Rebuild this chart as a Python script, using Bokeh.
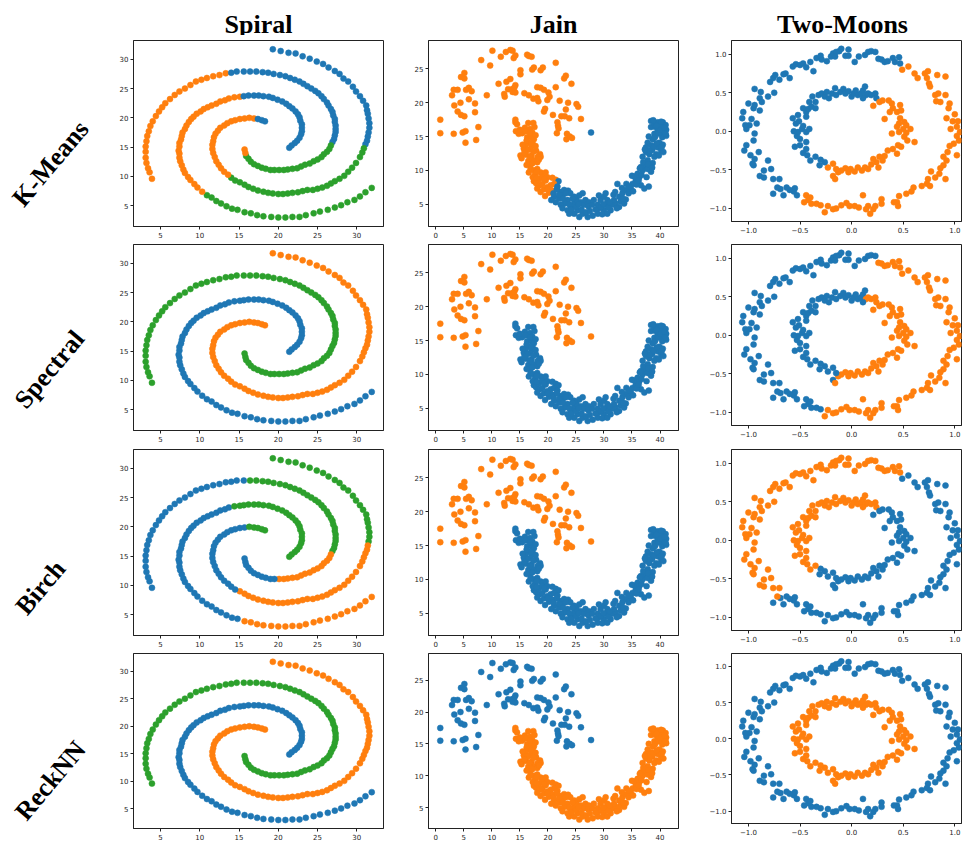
import math
from bokeh.plotting import figure
from bokeh.layouts import row, column
from bokeh.models import Range1d, FixedTicker
from bokeh.embed import file_html
from bokeh.resources import INLINE
from bokeh.core.properties import value

# ---------------- colours / names ----------------
PALETTE = ["#1f77b4", "#ff7f0e", "#2ca02c"]          # cluster 0, 1, 2
METHODS = ["K-Means", "Spectral", "Birch", "ReckNN"]
DATASETS = ["Spiral", "Jain", "Two-Moons"]

# ---------------- Spiral data (three arms, read along each arm) ----------------
SPIRAL_ARM_B = [(31.9,8.05),(31.1,7.3),(30.4,6.6),(29.7,6.0),(28.8,5.6),(28.0,5.1),(27.2,4.7),(26.3,4.3),
    (25.3,4.0),(24.5,3.7),(23.5,3.4),(22.7,3.1),(21.8,3.1),(20.9,3.0),(20.0,3.0),(19.1,3.1),(18.1,3.2),
    (17.3,3.4),(16.5,3.7),(15.7,3.9),(14.8,4.3),(14.1,4.5),(13.4,4.9),(12.7,5.4),(12.1,5.8),(11.5,6.4),
    (10.9,6.8),(10.3,7.4),(9.7,8.1),(9.3,8.7),(8.8,9.4),(8.5,9.9),(8.1,10.6),(7.9,11.2),(7.7,11.9),
    (7.5,12.6),(7.4,13.2),(7.4,13.9),(7.3,14.4),(7.4,15.1),(7.4,15.7),(7.6,16.3),(7.7,16.9),(7.8,17.5),
    (8.1,18.1),(8.3,18.7),(8.6,19.3),(8.9,19.8),(9.2,20.2),(9.6,20.7),(10.1,21.1),(10.5,21.5),(11.0,21.8),
    (11.5,22.1),(12.1,22.4),(12.6,22.8),(13.2,23.0),(13.7,23.3),(14.4,23.5),(15.1,23.6),(15.6,23.7),
    (16.2,23.8),(16.9,23.8),(17.5,23.8),(18.1,23.7),(18.8,23.6),(19.3,23.4),(19.9,23.1),(20.5,22.8),
    (21.0,22.4),(21.4,22.0),(21.8,21.6),(22.2,21.1),(22.5,20.6),(22.7,20.1),(22.8,19.5),(23.0,18.9),
    (23.0,18.3),(23.0,17.7),(22.9,17.2),(22.7,16.6),(22.4,16.1),(22.1,15.7),(21.7,15.3),(21.4,14.9)]
SPIRAL_ARM_O = [(19.3,31.7),(20.3,31.4),(21.3,31.1),(22.2,31.0),(23.1,30.5),(24.0,30.1),(24.9,29.6),
    (25.7,29.2),(26.4,28.6),(27.2,28.0),(27.8,27.5),(28.3,26.7),(28.9,26.2),(29.5,25.3),(29.9,24.5),
    (30.4,23.7),(30.8,22.9),(31.2,22.1),(31.3,21.3),(31.4,20.7),(31.5,19.9),(31.6,19.1),(31.6,18.3),
    (31.5,17.5),(31.4,16.8),(31.3,16.1),(31.1,15.5),(30.9,14.8),(30.7,14.1),(30.4,13.3),(29.9,12.3),
    (29.4,11.5),(28.9,10.8),(28.4,10.1),(27.8,9.6),(27.2,9.2),(26.7,8.8),(26.2,8.4),(25.6,8.1),(25.0,7.9),
    (24.4,7.7),(23.7,7.7),(23.1,7.5),(22.5,7.3),(21.8,7.2),(21.2,7.1),(20.6,7.0),(20.0,7.0),(19.3,7.1),
    (18.7,7.2),(18.1,7.4),(17.4,7.6),(16.8,7.9),(16.2,8.2),(15.7,8.6),(15.1,9.0),(14.5,9.3),(14.0,9.8),
    (13.6,10.3),(13.1,10.8),(12.7,11.4),(12.4,12.0),(12.1,12.6),(11.9,13.3),(11.7,14.0),(11.6,14.7),
    (11.6,15.4),(11.7,16.0),(11.8,16.7),(12.0,17.3),(12.3,17.8),(12.6,18.3),(13.1,18.7),(13.5,19.1),
    (14.0,19.4),(14.5,19.6),(15.1,19.8),(15.7,19.9),(16.3,20.0),(16.9,19.9),(17.4,19.8),(17.9,19.6),
    (18.3,19.4)]
SPIRAL_ARM_G = [(3.9,9.6),(3.6,10.7),(3.4,11.4),(3.2,12.3),(3.1,13.2),(3.1,14.2),(3.1,15.1),(3.2,16.0),
    (3.3,16.9),(3.5,17.7),(3.7,18.6),(4.0,19.4),(4.4,20.3),(4.8,21.1),(5.2,21.8),(5.6,22.5),(6.2,23.2),
    (6.8,23.9),(7.4,24.5),(8.1,25.0),(8.8,25.6),(9.5,26.2),(10.2,26.5),(10.9,26.8),(11.7,27.1),(12.5,27.3),
    (13.3,27.6),(14.0,27.7),(14.7,27.9),(15.6,27.9),(16.4,27.9),(17.2,27.9),(18.0,27.8),(18.7,27.7),
    (19.4,27.5),(20.2,27.3),(20.9,27.1),(21.5,26.8),(22.1,26.5),(22.7,26.2),(23.2,25.8),(23.7,25.4),
    (24.2,25.0),(24.7,24.6),(25.1,24.2),(25.5,23.7),(25.8,23.2),(26.2,22.6),(26.4,22.1),(26.7,21.5),
    (26.9,21.0),(27.0,20.4),(27.2,19.8),(27.2,19.3),(27.3,18.7),(27.3,18.1),(27.3,17.6),(27.2,17.0),
    (27.1,16.4),(26.9,15.9),(26.7,15.3),(26.5,14.7),(26.2,14.2),(25.8,13.8),(25.5,13.3),(25.0,12.9),
    (24.5,12.6),(24.0,12.2),(23.4,12.0),(22.9,11.7),(22.4,11.4),(21.8,11.3),(21.2,11.2),(20.7,11.1),
    (20.1,11.1),(19.5,11.1),(19.0,11.1),(18.4,11.3),(17.9,11.5),(17.4,11.8),(16.9,12.1),(16.5,12.5),
    (16.2,13.0),(15.9,13.5),(15.8,14.0),(15.7,14.6)]

# cluster runs along each arm: (number of points, cluster)
SPIRAL_RUNS = {
    "K-Means":  {"B": [(27, 2), (33, 1), (25, 0)], "O": [(27, 0), (31, 2), (22, 1), (3, 0)],
                 "G": [(27, 1), (33, 0), (24, 2), (2, 1)]},
    "Spectral": {"B": [(85, 0)], "O": [(83, 1)], "G": [(86, 2)]},
    "Birch":    {"B": [(20, 1), (38, 0), (27, 2)], "O": [(24, 2), (32, 1), (22, 0), (5, 2)],
                 "G": [(30, 0), (30, 2), (15, 1), (11, 0)]},
    "ReckNN":   {"B": [(85, 0)], "O": [(83, 1)], "G": [(86, 2)]},
}

# ---------------- Jain data ----------------
JAIN_UPPER = [(0.8,17.5),(0.8,15.5),(2.9,21.1),(3.2,21.9),(3.3,19.6),(3.2,15.4),(3.9,21.9),(3.9,18.7),
    (4.4,20.0),(4.5,23.8),(4.5,18.2),(5.1,18.0),(5.1,24.4),(5.1,23.6),(4.8,15.6),(5.3,15.8),(5.3,14.1),
    (5.4,21.9),(5.9,22.2),(5.9,20.5),(6.4,21.7),(7.0,19.9),(7.0,18.6),(7.2,14.5),(7.6,16.4),(8.1,26.3),
    (9.1,21.1),(9.7,25.5),(10.1,27.7),(11.2,22.8),(11.6,26.8),(12.2,21.3),(12.3,20.9),(12.5,27.5),
    (12.6,23.1),(12.9,22.0),(13.3,23.5),(13.3,27.8),(13.6,22.0),(13.7,27.7),(13.9,26.6),(14.2,27.0),
    (13.7,21.6),(14.2,22.6),(14.2,21.5),(14.0,22.2),(15.1,24.8),(15.1,24.2),(15.8,21.4),(16.3,27.1),
    (16.6,26.9),(17.1,26.8),(17.2,24.9),(17.5,25.2),(16.6,21.1),(17.4,20.6),(18.1,22.3),(18.1,20.7),
    (18.3,20.2),(18.7,22.2),(18.7,24.8),(19.1,25.2),(19.3,21.9),(19.3,18.7),(19.5,19.1),(19.9,20.4),
    (20.1,21.5),(20.3,20.9),(20.9,18.2),(21.4,25.9),(21.4,22.3),(21.6,15.5),(21.7,17.1),(21.8,16.6),
    (21.9,16.2),(22.1,20.3),(22.4,18.0),(22.9,23.6),(23.2,24.0),(23.0,18.0),(23.2,19.0),(23.3,14.6),
    (23.4,15.4),(23.6,20.0),(23.8,17.7),(23.9,15.0),(24.3,14.8),(24.2,22.8),(25.1,19.8),(25.4,19.4),
    (25.9,17.6),(27.7,15.6)]
JAIN_LOWER = [(14.2,17.5),(14.2,17.1),(14.3,15.8),(14.8,15.4),(15.4,15.5),(15.9,16.3),(16.5,17.0),
    (17.4,17.0),(16.8,16.1),(17.2,15.6),(16.3,14.9),(17.1,14.9),(17.5,14.6),(16.6,14.1),(17.3,13.9),
    (16.0,13.7),(16.9,13.2),(15.7,13.2),(17.9,12.9),(15.1,12.2),(15.3,11.8),(16.1,12.3),(17.1,12.2),
    (18.6,12.4),(18.7,12.0),(16.5,11.4),(17.5,11.5),(18.1,11.2),(16.9,10.9),(16.6,9.7),(17.5,10.0),
    (18.1,10.2),(18.7,9.7),(17.7,9.4),(19.1,9.5),(19.6,9.7),(19.9,9.0),(20.8,8.9),(21.4,8.6),(21.9,8.4),
    (17.5,8.4),(17.9,8.1),(18.3,8.6),(18.5,7.8),(19.0,8.0),(19.6,8.5),(18.1,7.3),(18.7,6.8),(19.3,7.2),
    (19.9,7.5),(20.5,7.8),(21.1,8.0),(21.7,7.6),(20.8,7.0),(20.2,6.7),(21.1,6.1),(20.6,5.6),(21.4,5.3),
    (22.0,5.8),(22.6,6.3),(22.3,6.8),(22.9,7.1),(23.6,7.0),(24.0,6.6),(23.5,5.6),(23.0,5.1),(22.3,4.9),
    (22.6,4.4),(23.5,4.1),(24.1,4.6),(24.7,5.1),(25.1,5.6),(25.6,6.3),(24.7,6.1),(26.2,6.6),(25.9,5.3),
    (26.4,4.9),(26.7,5.6),(27.3,5.3),(27.2,4.7),(25.3,4.1),(24.7,3.6),(23.8,3.6),(25.6,3.1),(26.2,3.6),
    (27.1,3.1),(28.0,3.3),(28.9,3.6),(29.1,4.4),(28.9,4.9),(29.4,5.6),(30.0,6.1),(29.1,6.3),(30.3,6.6),
    (30.6,5.6),(30.3,4.9),(30.0,4.1),(29.7,3.5),(30.6,3.6),(31.2,4.1),(31.5,4.9),(32.1,5.1),(31.8,5.6),
    (32.7,6.1),(33.0,5.4),(32.7,4.6),(33.6,5.1),(33.9,5.7),(33.3,6.6),(32.4,8.0),(33.9,7.1),(34.4,6.6),
    (34.8,7.3),(35.1,8.0),(35.7,8.5),(35.4,9.1),(36.0,9.5),(36.3,9.0),(36.6,7.8),(37.2,7.3),(38.0,7.6),
    (36.9,10.0),(37.4,10.7),(36.6,10.5),(37.8,11.5),(38.1,12.4),(36.9,12.0),(37.5,12.7),(38.6,13.0),
    (38.4,13.7),(37.8,14.1),(37.5,13.4),(38.7,14.6),(39.0,15.4),(38.4,16.4),(38.4,17.3),(39.0,16.8),
    (39.6,17.1),(40.0,16.7),(40.5,17.1),(41.0,16.7),(41.1,16.0),(40.6,15.6),(40.4,14.9),(41.1,15.1),
    (39.9,14.1),(40.5,13.8),(39.6,13.4),(40.2,12.9),(40.6,12.7),(39.3,12.4),(39.0,12.0),(38.7,11.1),
    (38.4,9.8),(37.8,10.2),(39.2,16.4),(39.6,15.8),
    (14.5,16.8),(15.0,16.0),(16.0,15.8),(16.8,15.5),(17.6,16.4),(17.8,15.2),(16.2,14.4),(17.0,14.0),
    (17.8,13.6),(15.5,13.8),(16.4,13.0),(17.4,12.8),(15.8,12.6),(16.8,12.0),(18.2,12.0),(17.2,11.0),
    (18.4,11.6),(16.2,10.8),(16.9,10.2),(18.0,9.8),(17.3,9.0),(18.9,9.0),(19.3,8.7),(18.0,8.9),
    (19.5,6.2),(20.0,7.2),(21.0,6.6),(21.6,7.2),(22.0,6.4),(22.7,5.8),(23.2,6.6),(23.8,5.0),(24.4,5.8),
    (24.2,4.2),(25.0,4.6),(25.5,5.0),(26.0,4.2),(26.8,3.8),(27.5,4.0),(27.9,4.9),(28.2,5.6),(28.5,4.2),
    (29.5,4.6),(29.9,5.0),(30.8,4.5),(31.0,5.3),(31.7,6.4),(32.3,4.4),(32.0,6.8),(33.2,7.4),(34.0,8.0),
    (34.5,7.6),(33.4,5.8),(35.2,6.9),(35.8,7.9),(36.2,8.5),(35.0,9.2),(36.7,9.3),
    (37.0,11.2),(37.9,10.9),(38.2,12.9),(37.3,13.1),(38.9,13.5),(39.4,14.0),(38.0,15.0),(39.1,14.9),
    (39.7,15.4),(40.0,16.0),(40.8,16.3),(39.4,16.6),(38.8,17.4),(40.2,17.2),(41.0,15.4),(40.3,13.4),
    (39.8,12.2),(36.4,10.3),(38.6,10.4),(37.6,9.0)]
# K-Means split line: points above/left of it are cluster 1 (orange)
JAIN_KMEANS_LINE = ((19.0, 3.5), (23.5, 11.5))
JAIN_GROUP_LABELS = {"Spectral": (1, 0), "Birch": (1, 0), "ReckNN": (0, 1)}   # (upper, lower)

# ---------------- Two-Moons (concentric rings) data ----------------
RING_OUTER = [(-0.12,1.04),(-0.10,1.07),(-0.03,1.06),(-0.06,0.98),(-0.03,0.98),(0.03,0.90),(0.07,0.97),
    (0.13,0.99),(0.16,1.03),(0.19,1.04),(0.23,1.03),(0.26,0.94),(0.29,0.93),(0.32,0.90),(0.35,0.91),
    (0.40,0.95),(0.42,0.90),(0.46,0.96),(0.47,0.88),(0.49,0.80),(0.55,0.84),(0.61,0.75),(0.64,0.69),
    (0.71,0.75),(0.74,0.78),(0.73,0.69),(0.75,0.62),(0.76,0.58),(0.83,0.73),(0.91,0.71),(0.81,0.47),
    (0.84,0.49),(0.82,0.39),(0.86,0.38),(0.91,0.47),(0.94,0.30),(0.95,0.36),(1.00,0.22),(0.92,0.17),
    (0.98,0.13),(1.03,0.13),(1.02,0.06),(0.96,0.03),(1.05,-0.01),(1.02,-0.06),(1.04,-0.12),(0.99,-0.16),
    (0.95,-0.19),(0.93,-0.27),(1.02,-0.31),(0.89,-0.33),(0.92,-0.38),(0.89,-0.44),(0.86,-0.48),
    (0.85,-0.55),(0.91,-0.62),(0.81,-0.60),(0.77,-0.52),(0.74,-0.62),(0.73,-0.68),(0.68,-0.71),
    (0.76,-0.71),(0.60,-0.73),(0.58,-0.78),(0.53,-0.81),(0.46,-0.84),(0.44,-0.92),(0.45,-0.97),
    (0.41,-0.92),(0.29,-0.88),(0.29,-0.94),(0.23,-0.97),(0.21,-1.01),(0.18,-1.07),(0.16,-0.97),
    (0.11,-0.83),(0.14,-1.01),(0.07,-0.99),(0.03,-0.97),(-0.02,-0.97),(-0.05,-0.93),(-0.10,-0.96),
    (-0.15,-1.00),(-0.18,-1.01),(-0.23,-0.97),(-0.26,-1.05),(-0.30,-0.96),(-0.34,-0.94),(-0.39,-0.94),
    (-0.42,-0.89),(-0.44,-0.83),(-0.40,-0.86),(-0.46,-0.92),(-0.53,-0.83),(-0.56,-0.78),(-0.55,-0.74),
    (-0.60,-0.76),(-0.63,-0.73),(-0.66,-0.83),(-0.69,-0.75),(-0.72,-0.73),(-0.70,-0.62),(-0.76,-0.81),
    (-0.76,-0.62),(-0.78,-0.49),(-0.81,-0.38),(-0.85,-0.51),(-0.89,-0.58),(-0.85,-0.60),(-0.95,-0.44),
    (-0.96,-0.42),(-0.94,-0.36),(-0.98,-0.31),(-0.90,-0.27),(-1.04,-0.25),(-1.02,-0.18),(-0.95,-0.12),
    (-0.94,-0.03),(-1.02,0.03),(-0.99,0.08),(-1.03,0.08),(-1.06,0.17),(-0.97,0.16),(-0.92,0.10),
    (-1.05,0.25),(-0.95,0.30),(-0.89,0.27),(-1.00,0.36),(-0.94,0.34),(-0.89,0.43),(-0.87,0.38),
    (-0.94,0.55),(-0.88,0.51),(-0.81,0.45),(-0.75,0.50),(-0.79,0.64),(-0.76,0.69),(-0.74,0.73),
    (-0.70,0.67),(-0.66,0.74),(-0.64,0.75),(-0.60,0.69),(-0.57,0.84),(-0.54,0.87),(-0.50,0.86),
    (-0.47,0.88),(-0.44,0.83),(-0.40,0.90),(-0.37,0.78),(-0.34,0.95),(-0.30,0.98),(-0.29,0.93),
    (-0.24,0.91),(-0.20,0.97),(-0.18,1.01),(-0.15,1.03),(-0.16,0.97)]
RING_INNER = [(-0.38,0.45),(-0.35,0.38),(-0.32,0.47),(-0.29,0.49),(-0.26,0.45),(-0.24,0.51),(-0.22,0.43),
    (-0.19,0.49),(-0.16,0.56),(-0.15,0.47),(-0.11,0.51),(-0.08,0.55),(-0.06,0.49),(-0.03,0.52),(0.0,0.45),
    (0.02,0.49),(0.04,0.53),(0.06,0.47),(0.09,0.49),(0.11,0.53),(0.13,0.58),(0.14,0.47),(0.11,0.43),
    (0.16,0.49),(0.19,0.47),(0.23,0.49),(0.24,0.43),(0.21,0.33),(0.27,0.38),(0.30,0.40),(0.36,0.40),
    (0.39,0.36),(0.40,0.30),(0.37,0.25),(0.32,0.16),(0.44,0.25),(0.47,0.34),(0.48,0.27),(0.47,0.17),
    (0.51,0.12),(0.46,0.10),(0.44,0.06),(0.50,0.03),(0.53,0.08),(0.57,0.03),(0.53,-0.02),(0.46,-0.01),
    (0.51,-0.07),(0.54,-0.12),(0.61,-0.14),(0.39,-0.03),(0.48,-0.20),(0.45,-0.18),(0.40,-0.23),
    (0.35,-0.25),(0.44,-0.29),(0.32,-0.32),(0.27,-0.33),(0.30,-0.38),(0.24,-0.40),(0.26,-0.47),
    (0.21,-0.36),(0.19,-0.43),(0.16,-0.49),(0.13,-0.47),(0.10,-0.51),(0.06,-0.47),(0.03,-0.52),
    (-0.01,-0.49),(-0.03,-0.53),(-0.06,-0.48),(-0.10,-0.51),(-0.13,-0.53),(-0.15,-0.49),(-0.18,-0.58),
    (-0.16,-0.62),(-0.18,-0.42),(-0.23,-0.47),(-0.26,-0.40),(-0.31,-0.44),(-0.30,-0.37),(-0.35,-0.33),
    (-0.40,-0.38),(-0.43,-0.31),(-0.47,-0.28),(-0.44,-0.23),(-0.50,-0.18),(-0.55,-0.20),(-0.44,-0.14),
    (-0.50,-0.10),(-0.53,-0.06),(-0.52,-0.01),(-0.56,0.0),(-0.48,0.03),(-0.47,0.07),(-0.54,0.10),
    (-0.51,0.13),(-0.57,0.17),(-0.52,0.21),(-0.44,0.25),(-0.47,0.30),(-0.42,0.29),(-0.39,0.32),
    (-0.41,0.38),(-0.35,0.30),(-0.44,0.19),(-0.44,-0.01),(-0.41,0.03)]
# angular split (degrees): points with lo < angle < hi get label_in, the others label_out
RING_SPLITS = {"K-Means": (-120, 60, 1, 0), "Spectral": (-105, 75, 1, 0), "Birch": (-134, 60, 0, 1)}
RING_GROUP_LABELS = {"ReckNN": (0, 1)}   # (outer, inner)

# ---------------- axes ----------------
SPIRAL_XR, SPIRAL_YR = (1.55, 33.4), (1.46, 33.2)
JAIN_XR, JAIN_YR = (-1.3, 43.3), (1.7, 29.2)
RING_XR, RING_YR = (-1.164, 1.065), (-1.17, 1.178)
SPIRAL_TICKS = [5, 10, 15, 20, 25, 30]
JAIN_XTICKS = [0, 5, 10, 15, 20, 25, 30, 35, 40]
JAIN_YTICKS = [5, 10, 15, 20, 25]
RING_TICKS = [-1.0, -0.5, 0.0, 0.5, 1.0]
RING_TICK_LABELS = {-1.0: "\u22121.0", -0.5: "\u22120.5", 0.0: "0.0", 0.5: "0.5", 1.0: "1.0"}

# ---------------- label helpers ----------------
def spiral_labels(method):
    xs, ys, cs = [], [], []
    runs = SPIRAL_RUNS[method]
    for key, arm in (("B", SPIRAL_ARM_B), ("O", SPIRAL_ARM_O), ("G", SPIRAL_ARM_G)):
        labs = []
        for n, c in runs[key]:
            labs += [c] * n
        for (x, y), c in zip(arm, labs):
            xs.append(x); ys.append(y); cs.append(PALETTE[c])
    return xs, ys, cs

def jain_labels(method):
    xs, ys, cs = [], [], []
    if method == "K-Means":
        (x1, y1), (x2, y2) = JAIN_KMEANS_LINE
        for x, y in JAIN_UPPER + JAIN_LOWER:
            side = (x2 - x1) * (y - y1) - (y2 - y1) * (x - x1)
            xs.append(x); ys.append(y); cs.append(PALETTE[1 if side > 0 else 0])
    else:
        lu, ll = JAIN_GROUP_LABELS[method]
        for x, y in JAIN_UPPER:
            xs.append(x); ys.append(y); cs.append(PALETTE[lu])
        for x, y in JAIN_LOWER:
            xs.append(x); ys.append(y); cs.append(PALETTE[ll])
    return xs, ys, cs

def ring_labels(method):
    xs, ys, cs = [], [], []
    if method in RING_SPLITS:
        lo, hi, lin, lout = RING_SPLITS[method]
        for x, y in RING_OUTER + RING_INNER:
            a = math.degrees(math.atan2(y, x))
            xs.append(x); ys.append(y); cs.append(PALETTE[lin if lo < a < hi else lout])
    else:
        lo_, li_ = RING_GROUP_LABELS[method]
        for x, y in RING_OUTER:
            xs.append(x); ys.append(y); cs.append(PALETTE[lo_])
        for x, y in RING_INNER:
            xs.append(x); ys.append(y); cs.append(PALETTE[li_])
    return xs, ys, cs

# ---------------- geometry (px); the page renders the layout 5 px lower ----------------
LEFT_W = 98
TITLE_H = 35
ROW_FRAME_H = [186, 186, 186, 175]
ROW_BOTTOM = [18, 19, 18, 18]
COLS = [  # (border_left, frame_w, border_right, extra_top)
    (35, 250, 10, 0),
    (35, 250, 10, 0),
    (43, 230, 2, 5),
]

def bare_fig(w, h, xr, yr):
    f = figure(title=None, frame_width=w, frame_height=h, x_range=Range1d(*xr), y_range=Range1d(*yr),
               x_axis_type=None, y_axis_type=None, output_backend="svg", toolbar_location=None,
               min_border_left=0, min_border_right=0, min_border_top=0, min_border_bottom=0)
    f.outline_line_color = None
    return f

def panel(col, r, xs, ys, cs):
    bl, fw, br, top = COLS[col]
    fh = ROW_FRAME_H[r] - top
    if col == 0:
        xr, yr, xt, yt = SPIRAL_XR, SPIRAL_YR, SPIRAL_TICKS, SPIRAL_TICKS
    elif col == 1:
        xr, yr, xt, yt = JAIN_XR, JAIN_YR, JAIN_XTICKS, JAIN_YTICKS
    else:
        xr, yr, xt, yt = RING_XR, RING_YR, RING_TICKS, RING_TICKS
    p = figure(title=None, frame_width=fw, frame_height=fh, x_range=Range1d(*xr), y_range=Range1d(*yr),
               output_backend="svg", toolbar_location=None,
               min_border_left=bl, min_border_right=br, min_border_top=top,
               min_border_bottom=ROW_BOTTOM[r])
    p.xgrid.visible = False
    p.ygrid.visible = False
    p.outline_line_color = "#222222"
    p.outline_line_width = 1
    for ax, ticks in ((p.xaxis[0], xt), (p.yaxis[0], yt)):
        ax.ticker = FixedTicker(ticks=ticks)
        ax.major_tick_in = 0
        ax.major_tick_out = 3
        ax.minor_tick_line_color = None
        ax.axis_line_color = "#222222"
        ax.major_tick_line_color = "#222222"
        ax.major_label_text_font = "DejaVu Sans"
        ax.major_label_text_font_size = "7px"
        ax.major_label_text_color = "#262626"
        ax.major_label_standoff = 2
        if col == 2:
            ax.major_label_overrides = RING_TICK_LABELS
    p.scatter(xs, ys, size=6, marker="circle", fill_color=cs, line_color=cs, line_width=0.5)
    return p

# ---------------- title row ----------------
total_w = sum(a + b + c for a, b, c, _ in COLS)
corner = bare_fig(LEFT_W, TITLE_H, (0, LEFT_W), (0, TITLE_H))
title_fig = bare_fig(total_w, TITLE_H, (LEFT_W, LEFT_W + total_w), (0, TITLE_H))
TITLE_X = [258, 553, 842]
TITLE_BASELINE = 24          # y of the title baseline inside the title strip, from its top
title_fig.text(x=TITLE_X, y=[TITLE_H - TITLE_BASELINE] * 3, text=DATASETS,
               text_font=value("Liberation Serif"), text_font_style="bold", text_font_size="26px",
               text_align="center", text_baseline="alphabetic", text_color="black")

# ---------------- panel rows with their rotated method labels ----------------
LABEL_X = [50, 49, 40, 50]          # label centres, layout coordinates
LABEL_Y = [158, 364, 582, 775]
rows = [row(corner, title_fig, spacing=0)]
top = TITLE_H
for r, m in enumerate(METHODS):
    h = ROW_FRAME_H[r] + ROW_BOTTOM[r]
    lab = bare_fig(LEFT_W, h, (0, LEFT_W), (0, h))
    lab.text(x=[LABEL_X[r]], y=[top + h - LABEL_Y[r]], text=[m],
             text_font=value("Liberation Serif"), text_font_style="bold", text_font_size="26px",
             text_align="center", text_baseline="middle", angle=50, angle_units="deg",
             text_color="black")
    figs = [panel(0, r, *spiral_labels(m)), panel(1, r, *jain_labels(m)), panel(2, r, *ring_labels(m))]
    rows.append(row(lab, *figs, spacing=0))
    top += h

layout = column(*rows, spacing=0)

open("out.html", "w").write(file_html(layout, INLINE))
